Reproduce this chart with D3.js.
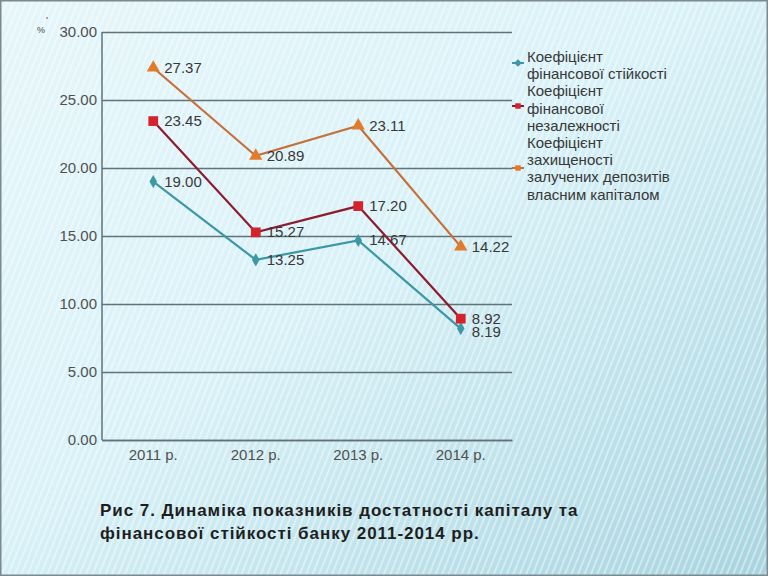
<!DOCTYPE html>
<html><head><meta charset="utf-8">
<script src="https://cdn.jsdelivr.net/npm/d3@7"></script>
<style>body{margin:0;padding:0;overflow:hidden}svg{display:block}</style>
</head><body>
<script>
const categories = ["2011 р.", "2012 р.", "2013 р.", "2014 р."];
const seriesNames = ["Коефіцієнт фінансової стійкості", "Коефіцієнт фінансової незалежності", "Коефіцієнт захищеності залучених депозитів власним капіталом"];
const stability = [19.00, 13.25, 14.67, 8.19];
const independence = [23.45, 15.27, 17.20, 8.92];
const protection = [27.37, 20.89, 23.11, 14.22];
const yTicks = [0, 5, 10, 15, 20, 25, 30];
const legendLines = [
  ["Коефіцієнт", "фінансової стійкості"],
  ["Коефіцієнт", "фінансової", "незалежності"],
  ["Коефіцієнт", "захищеності", "залучених депозитів", "власним капіталом"]
];
const titleLines = ["Рис 7. Динаміка показників достатності капіталу та", "фінансової стійкості банку 2011-2014 рр."];

const W = 768, H = 576;
const FONT = "Liberation Sans, Arial, sans-serif";
const svg = d3.select("body").append("svg").attr("width", W).attr("height", H);
const defs = svg.append("defs");
const grad = defs.append("linearGradient").attr("id", "bg").attr("x1", 0).attr("y1", 0).attr("x2", 1).attr("y2", 1);
grad.append("stop").attr("offset", "0").attr("stop-color", "#e6f6fa");
grad.append("stop").attr("offset", "0.45").attr("stop-color", "#d9f2f8");
grad.append("stop").attr("offset", "1").attr("stop-color", "#a8d4df");
const pat = defs.append("pattern").attr("id", "stripes").attr("width", 6).attr("height", 6)
  .attr("patternUnits", "userSpaceOnUse").attr("patternTransform", "rotate(22)");
pat.append("rect").attr("width", 2).attr("height", 6).attr("fill", "#ffffff").attr("opacity", 0.4);

svg.append("rect").attr("width", W).attr("height", H).attr("fill", "url(#bg)");
svg.append("rect").attr("width", W).attr("height", H).attr("fill", "url(#stripes)");
svg.append("rect").attr("x", 0.5).attr("y", 0.5).attr("width", W - 1).attr("height", H - 1)
  .attr("fill", "none").attr("stroke", "#7a8a90").attr("stroke-width", 2);

const m = {left: 102, right: 512, top: 32, bottom: 440};
const x = d3.scaleBand().domain(categories).range([m.left, m.right]);
const y = d3.scaleLinear().domain([0, 30]).range([m.bottom, m.top]);
const cx = c => x(c) + x.bandwidth() / 2;

const gAxis = svg.append("g").attr("transform", `translate(${m.left},0)`)
  .call(d3.axisLeft(y).tickValues(yTicks).tickSize(-(m.right - m.left)).tickPadding(5).tickFormat(d3.format(".2f")));
gAxis.select(".domain").remove();
gAxis.selectAll(".tick line").attr("stroke", "#5f7478").attr("stroke-width", 1.5);
gAxis.selectAll(".tick text").attr("font-family", FONT).attr("font-size", 15).attr("fill", "#505050");

svg.append("line").attr("x1", m.left).attr("x2", m.left).attr("y1", m.top).attr("y2", m.bottom)
  .attr("stroke", "#5f7478").attr("stroke-width", 1.5);

const gx = svg.append("g").attr("transform", `translate(0,${m.bottom})`)
  .call(d3.axisBottom(x).tickSize(0).tickPadding(9));
gx.select(".domain").attr("stroke", "#5f7478").attr("stroke-width", 1.5);
gx.selectAll(".tick text").attr("font-family", FONT).attr("font-size", 15).attr("fill", "#505050");

svg.append("text").attr("x", 37).attr("y", 33).text("%").attr("font-family", FONT).attr("font-size", 9).attr("fill", "#444");
svg.append("circle").attr("cx", 47).attr("cy", 18).attr("r", 0.8).attr("fill", "#444");

const series = [
  {vals: stability, line: "#3d97a5", fill: "#3d97a5", sym: d3.symbolDiamond, size: 50},
  {vals: independence, line: "#8e1c2d", fill: "#d4232c", sym: d3.symbolSquare, size: 95},
  {vals: protection, line: "#c4703a", fill: "#e27b2c", sym: d3.symbolTriangle, size: 75}
];
const lineGen = d3.line().x((d, i) => cx(categories[i])).y(d => y(d));
series.forEach((s, k) => {
  svg.append("path").datum(s.vals).attr("d", lineGen).attr("fill", "none").attr("stroke", s.line).attr("stroke-width", 2.2);
  svg.selectAll(null).data(s.vals).enter().append("path")
    .attr("d", d3.symbol().type(s.sym).size(s.size))
    .attr("transform", (d, i) => `translate(${cx(categories[i])},${y(d)})`)
    .attr("fill", s.fill);
  svg.selectAll(null).data(s.vals).enter().append("text")
    .attr("x", (d, i) => cx(categories[i]) + 11).attr("y", (d, i) => y(d) + 5 + (k === 0 && i === 3 ? 3 : 0))
    .text(d => d.toFixed(2))
    .attr("font-family", FONT).attr("font-size", 15).attr("fill", "#383838");
});

let ly = 57;
const lineH = 17.2;
const markYs = [63, 106, 168];
legendLines.forEach((lines, k) => {
  const s = series[k];
  const markY = markYs[k];
  svg.append("line").attr("x1", 512).attr("x2", 524).attr("y1", markY).attr("y2", markY).attr("stroke", s.line).attr("stroke-width", 2);
  svg.append("path").attr("d", d3.symbol().type(d3.symbolSquare).size(30)).attr("transform", `translate(518,${markY}) rotate(${k === 0 ? 45 : 0})`).attr("fill", s.fill);
  lines.forEach((t, j) => {
    svg.append("text").attr("x", 527).attr("y", ly + j * lineH + 5).text(t)
      .attr("font-family", FONT).attr("font-size", 15).attr("fill", "#383838");
  });
  ly += lines.length * lineH;
});

titleLines.forEach((t, j) => {
  svg.append("text").attr("x", 100).attr("y", 516 + j * 23).text(t)
    .attr("font-family", FONT).attr("font-weight", "bold").attr("font-size", 17).attr("letter-spacing", 0.95).attr("fill", "#1e1e1e");
});
</script>
</body></html>
